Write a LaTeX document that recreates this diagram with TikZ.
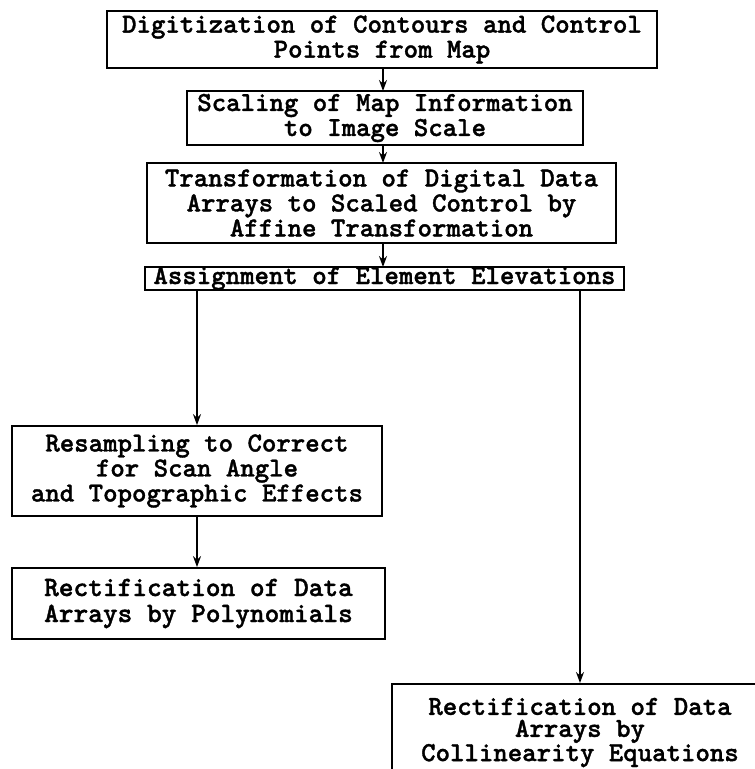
\documentclass[tikz,border=0pt]{standalone}
\usepackage{fontspec}
\setmonofont{lmmonolt10-bold.otf}[RawFeature={embolden=1.3}]
\usetikzlibrary{arrows.meta}
\begin{document}
\begin{tikzpicture}[x=1pt,y=-1pt,
  box/.style={draw, line width=1.8pt, inner sep=0pt, align=center,
    font=\ttfamily\fontsize{27.5}{25}\selectfont},
  conn/.style={line width=1.6pt, -{Stealth[length=11pt,width=8pt]}}]
\useasboundingbox (0,0) rectangle (755,769);
\node[box, minimum width=550pt, minimum height=57pt] (b1) at (382,39.5)
  {Digitization of Contours and Control\\Points from Map};
\node[box, minimum width=396pt, minimum height=54pt] (b2) at (385,118)
  {Scaling of Map Information\\to Image Scale};
\node[box, minimum width=469pt, minimum height=80pt] (b3) at (381.5,203)
  {Transformation of Digital Data\\Arrays to Scaled Control by\\Affine Transformation};
\node[box, minimum width=479pt, minimum height=23pt] (b4) at (384.5,278.5)
  {Assignment of Element Elevations};
\node[box, minimum width=370pt, minimum height=90pt] (b5) at (197,471)
  {Resampling to Correct\\for Scan Angle\\and Topographic Effects};
\node[box, minimum width=373pt, minimum height=71pt,
  font=\ttfamily\fontsize{28}{26}\selectfont] (b6) at (198.5,603.5)
  {Rectification of Data\\Arrays by Polynomials};
\node[box, minimum width=376pt, inner ysep=14pt, anchor=north,
  font=\ttfamily\fontsize{27.5}{22}\selectfont] (b7) at (580,683)
  {Rectification of Data\\Arrays by\\Collinearity Equations};
\draw[conn] (383,68) -- (383,91);
\draw[conn] (383,145) -- (383,163);
\draw[conn] (383,243) -- (383,267);
\draw[conn] (b5.north |- b4.south) -- (b5.north);
\draw[conn] (b5.south) -- (b6.north -| b5.south);
\draw[conn] (b7.north |- b4.south) -- (b7.north);
\end{tikzpicture}
\end{document}
